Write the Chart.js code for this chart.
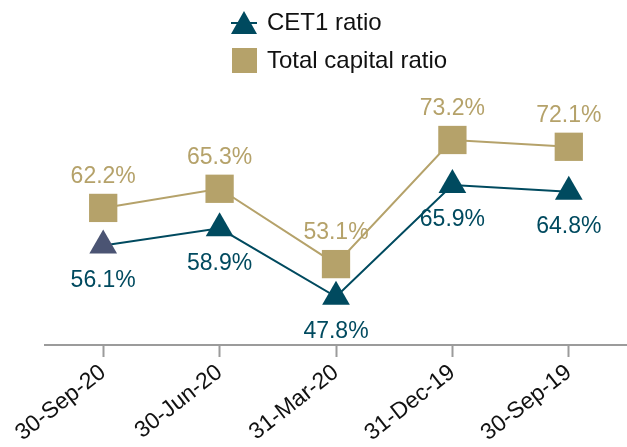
<!DOCTYPE html>
<html>
<head>
<meta charset="utf-8">
<script src="https://cdn.jsdelivr.net/npm/chart.js@4"></script>
<style>
    html, body { margin: 0; padding: 0; background: #ffffff; }
    #wrap { width: 627px; height: 447px; }
</style>
</head>
<body>
<div id="wrap"><canvas id="capitalChart" width="627" height="447"></canvas></div>
<script>
// Chart data
const periods = ['30-Sep-20', '30-Jun-20', '31-Mar-20', '31-Dec-19', '30-Sep-19'];
const cet1Ratio = [56.1, 58.9, 47.8, 65.9, 64.8];
const totalCapitalRatio = [62.2, 65.3, 53.1, 73.2, 72.1];
const seriesNames = ['CET1 ratio', 'Total capital ratio'];

const TEAL = '#004a5f';
const SLATE = '#4b5473';
const TAN = '#b5a26a';
const FONT = "'Liberation Sans', Arial, sans-serif";

// Value labels above / below each point
const pointLabels = {
    id: 'pointLabels',
    afterDatasetsDraw(chart, args, opts) {
        const ctx = chart.ctx;
        ctx.save();
        ctx.font = `${opts.size}px ${FONT}`;
        ctx.textAlign = 'center';
        ctx.textBaseline = 'middle';
        chart.data.datasets.forEach((ds, i) => {
            const meta = chart.getDatasetMeta(i);
            ctx.fillStyle = opts.colors[i];
            meta.data.forEach((pt, j) => {
                ctx.fillText(ds.data[j].toFixed(1) + '%', pt.x, pt.y + opts.offsets[i]);
            });
        });
        ctx.restore();
    }
};

// Stacked legend at the top
const stackedLegend = {
    id: 'stackedLegend',
    afterDraw(chart) {
        const ctx = chart.ctx;
        ctx.save();
        // CET1: triangle with line
        ctx.strokeStyle = TEAL;
        ctx.lineWidth = 2;
        ctx.beginPath();
        ctx.moveTo(231, 23);
        ctx.lineTo(257, 23);
        ctx.stroke();
        ctx.fillStyle = TEAL;
        ctx.beginPath();
        ctx.moveTo(244, 11);
        ctx.lineTo(257, 34);
        ctx.lineTo(231, 34);
        ctx.closePath();
        ctx.fill();
        // Total capital: square
        ctx.fillStyle = TAN;
        ctx.fillRect(232, 48, 25, 25);

        ctx.fillStyle = '#111111';
        ctx.font = `24px ${FONT}`;
        ctx.textBaseline = 'middle';
        ctx.fillText(seriesNames[0], 267, 23);
        ctx.fillText(seriesNames[1], 267, 61);
        ctx.restore();
    }
};

new Chart(document.getElementById('capitalChart'), {
    type: 'line',
    data: {
        labels: periods,
        datasets: [{
            label: seriesNames[0],
            data: cet1Ratio,
            borderColor: TEAL,
            borderWidth: 2,
            pointStyle: 'triangle',
            pointRadius: 16,
            pointBorderWidth: 0,
            pointBackgroundColor: cet1Ratio.map((v, i) => i === 0 ? SLATE : TEAL),
            tension: 0
        }, {
            label: seriesNames[1],
            data: totalCapitalRatio,
            borderColor: TAN,
            borderWidth: 2,
            pointStyle: 'rect',
            pointRadius: 20,
            pointBorderWidth: 0,
            pointBackgroundColor: TAN,
            tension: 0
        }]
    },
    options: {
        responsive: false,
        animation: false,
        layout: {
            autoPadding: false,
            padding: { left: 45, right: -4, top: 98, bottom: 0 }
        },
        plugins: {
            legend: { display: false },
            tooltip: { enabled: false },
            pointLabels: { size: 23, offsets: [35, -31], colors: [TEAL, TAN] }
        },
        scales: {
            y: { display: false, min: 40, max: 80 },
            x: {
                offset: true,
                afterFit: (scale) => { scale.height = 102; },
                border: { display: true, color: '#9b9b9b', width: 2 },
                grid: {
                    offset: false,
                    drawOnChartArea: false,
                    drawTicks: true,
                    tickLength: 12,
                    tickWidth: 2,
                    tickColor: '#9b9b9b'
                },
                ticks: {
                    color: '#111111',
                    minRotation: 38,
                    maxRotation: 38,
                    padding: 2,
                    font: { size: 23, family: FONT }
                }
            }
        }
    },
    plugins: [pointLabels, stackedLegend]
});
</script>
</body>
</html>
